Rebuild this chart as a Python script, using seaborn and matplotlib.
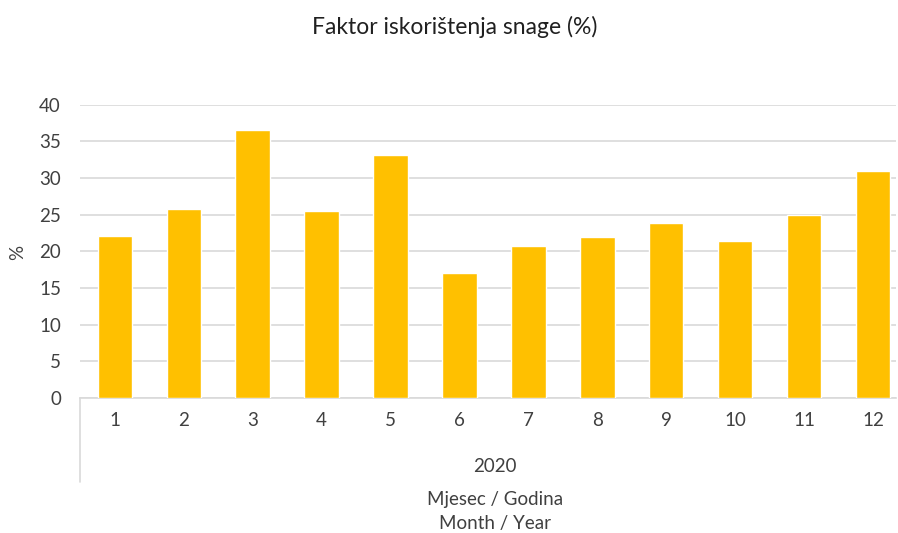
import matplotlib
matplotlib.use("Agg")
import matplotlib.pyplot as plt
import seaborn as sns
import pandas as pd
from matplotlib.lines import Line2D

months = ["1", "2", "3", "4", "5", "6", "7", "8", "9", "10", "11", "12"]
values = [22.1, 25.8, 36.6, 25.5, 33.2, 17.0, 20.7, 22.0, 23.9, 21.4, 25.0, 31.0]
year_label = "2020"
title = "Faktor iskorištenja snage (%)"
y_label = "%"
x_label_1 = "Mjesec / Godina"
x_label_2 = "Month / Year"
y_ticks = [0, 5, 10, 15, 20, 25, 30, 35, 40]

sns.set_theme(style="white")
plt.rcParams["font.family"] = ["Lato", "DejaVu Sans"]

df = pd.DataFrame({"month": months, "value": values})

W, H = 898, 533
fig = plt.figure(figsize=(W / 100, H / 100), dpi=100)
left, right, top, bottom = 80.4, 896, 104.7, 398
ax = fig.add_axes([left / W, 1 - bottom / H, (right - left) / W, (bottom - top) / H])

sns.barplot(data=df, x="month", y="value", color="#FFC000", width=0.5,
            saturation=1, ax=ax, zorder=3)

fs = 13.5
ax.set_ylim(0, 40)
ax.set_xlim(-0.5, 11.5 - (907.5 - right) / 68.9)
ax.set_yticks(y_ticks)
ax.set_yticklabels([str(t) for t in y_ticks], fontsize=fs, color="#404040")
ax.tick_params(axis="x", labelsize=fs, labelcolor="#404040", length=0, pad=10)
ax.tick_params(axis="y", length=0, pad=14)
ax.yaxis.grid(True, color="#d9d9d9", linewidth=1.2, zorder=0)
ax.set_axisbelow(True)
for s in ["left", "right", "top"]:
    ax.spines[s].set_visible(False)
ax.spines["bottom"].set_color("#d9d9d9")
ax.spines["bottom"].set_linewidth(1.2)
ax.set_xlabel("")
ax.set_ylabel("")

# vertical divider of multi-level category axis
fig.add_artist(Line2D([left / W, left / W], [1 - bottom / H, 1 - 482 / H],
                      color="#d9d9d9", linewidth=1.2))

fig.text(495 / W, 1 - 466 / H, year_label, ha="center", va="center",
         fontsize=fs, color="#404040")
fig.text(495 / W, 1 - 500 / H, x_label_1, ha="center", va="center",
         fontsize=fs, color="#404040")
fig.text(495 / W, 1 - 524 / H, x_label_2, ha="center", va="center",
         fontsize=fs, color="#404040")
fig.text(18 / W, 1 - 252 / H, y_label, ha="center", va="center", rotation=90,
         fontsize=fs, color="#404040")
fig.text(455 / W, 1 - 27 / H, title, ha="center", va="center",
         fontsize=16.5, color="#202020")

fig.savefig("out.png", dpi=100, facecolor="white")
